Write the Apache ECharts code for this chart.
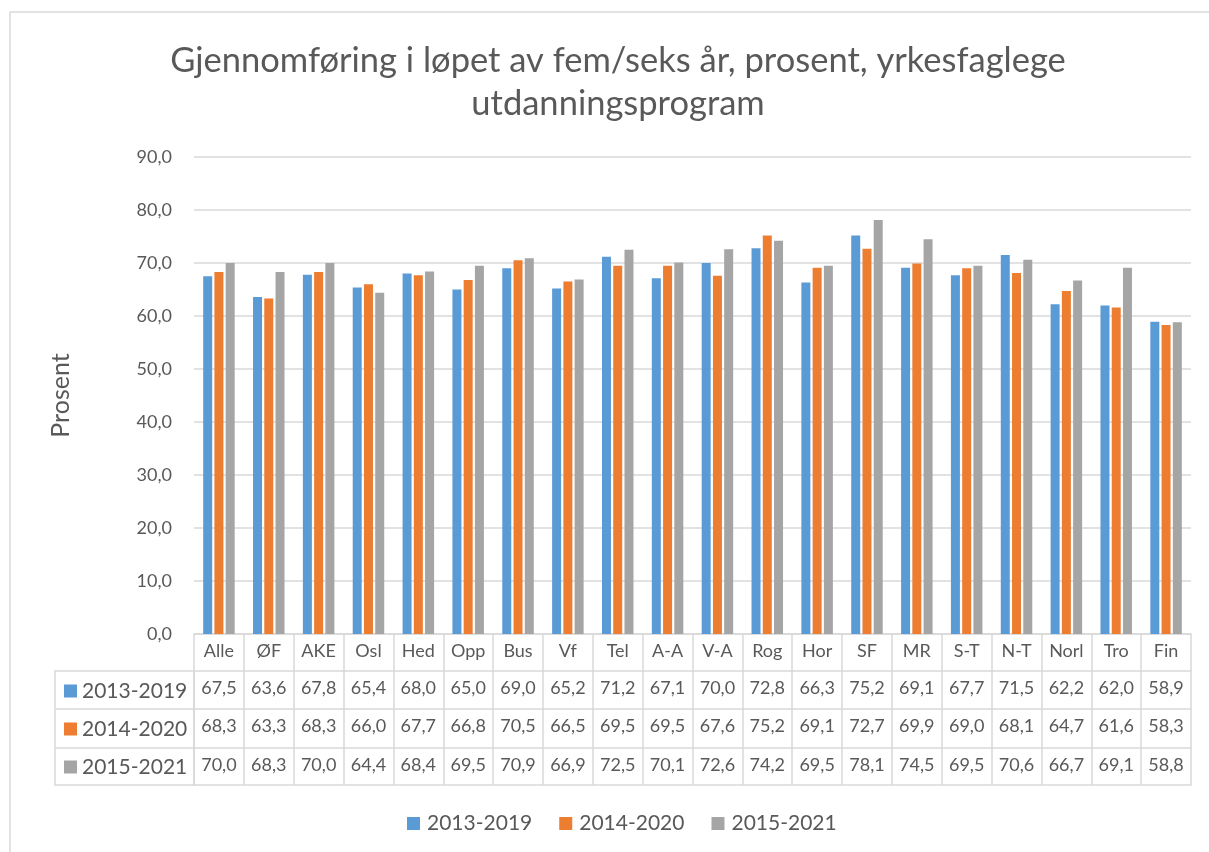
<!DOCTYPE html>
<html>
<head>
<meta charset="utf-8">
<script src="https://cdn.jsdelivr.net/npm/echarts@6/dist/echarts.min.js"></script>
<style>
    html, body { margin: 0; padding: 0; background: #ffffff; }
    #container { width: 1209px; height: 852px; }
</style>
</head>
<body>
<div id="container"></div>
<script type="text/javascript">
    // data
    var categories = ['Alle', 'ØF', 'AKE', 'Osl', 'Hed', 'Opp', 'Bus', 'Vf', 'Tel', 'A-A',
        'V-A', 'Rog', 'Hor', 'SF', 'MR', 'S-T', 'N-T', 'Norl', 'Tro', 'Fin'];
    var seriesNames = ['2013-2019', '2014-2020', '2015-2021'];
    var values2013 = [67.5, 63.6, 67.8, 65.4, 68.0, 65.0, 69.0, 65.2, 71.2, 67.1,
        70.0, 72.8, 66.3, 75.2, 69.1, 67.7, 71.5, 62.2, 62.0, 58.9];
    var values2014 = [68.3, 63.3, 68.3, 66.0, 67.7, 66.8, 70.5, 66.5, 69.5, 69.5,
        67.6, 75.2, 69.1, 72.7, 69.9, 69.0, 68.1, 64.7, 61.6, 58.3];
    var values2015 = [70.0, 68.3, 70.0, 64.4, 68.4, 69.5, 70.9, 66.9, 72.5, 70.1,
        72.6, 74.2, 69.5, 78.1, 74.5, 69.5, 70.6, 66.7, 69.1, 58.8];
    var rows = [values2013, values2014, values2015];
    var colors = ['#5B9BD5', '#ED7D31', '#A5A5A5'];

    var textColor = '#595959';
    var lineColor = '#D9D9D9';
    var font = 'Lato, "Open Sans", sans-serif';

    function fmt(v) {
        return v.toFixed(1).replace('.', ',');
    }

    var dom = document.getElementById('container');
    var myChart = echarts.init(dom);

    // category row + one x axis per table row (row lines come from the axis lines)
    var xAxes = [{
        type: 'category',
        data: categories,
        position: 'bottom',
        gridIndex: 0,
        axisLine: { show: true, lineStyle: { color: lineColor, width: 1.5 } },
        axisTick: { show: true, interval: 0, length: 151, lineStyle: { color: lineColor, width: 1.5 } },
        axisLabel: { interval: 0, margin: 8, fontSize: 18, color: textColor, fontFamily: font, verticalAlign: 'top' }
    }];
    var offsets = [37, 75, 114, 151];
    offsets.forEach(function (off, k) {
        xAxes.push({
            type: 'category',
            data: categories,
            position: 'bottom',
            offset: off,
            gridIndex: 0,
            axisLine: { show: true, lineStyle: { color: lineColor, width: 1.5 } },
            axisTick: { show: false },
            axisLabel: {
                show: k < rows.length,
                interval: 0,
                margin: 8,
                fontSize: 18,
                color: textColor,
                fontFamily: font,
                verticalAlign: 'top',
                formatter: function (value, idx) {
                    return k < rows.length ? fmt(rows[k][idx]) : '';
                }
            }
        });
    });

    var seriesData = [];
    for (var i = 0; i < rows.length; i++) {
        seriesData.push({
            name: seriesNames[i],
            type: 'bar',
            xAxisIndex: 0,
            data: rows[i],
            barWidth: 9,
            barGap: '25%',
            itemStyle: { color: colors[i] }
        });
    }

    var option = {
        animation: false,
        color: colors,
        textStyle: { fontFamily: font },
        title: {
            text: 'Gjennomføring i løpet av fem/seks år, prosent, yrkesfaglege\nutdanningsprogram',
            left: 613,
            textAlign: 'center',
            top: 34,
            textStyle: { fontSize: 34.5, fontWeight: 'normal', color: textColor, lineHeight: 43, fontFamily: font }
        },
        legend: [{
            data: seriesNames,
            bottom: 13,
            left: 402,
            itemWidth: 13,
            itemHeight: 13,
            itemGap: 27,
            icon: 'rect',
            selectedMode: false,
            textStyle: { fontSize: 21, color: textColor, fontFamily: font, padding: [0, 0, 0, 2] }
        }, {
            // row headers of the data table
            data: seriesNames,
            orient: 'vertical',
            left: 59,
            top: 675,
            itemWidth: 13,
            itemHeight: 13,
            itemGap: 16,
            icon: 'rect',
            selectedMode: false,
            textStyle: { fontSize: 21, color: textColor, fontFamily: font, lineHeight: 22 }
        }],
        grid: { left: 194, right: 18, top: 157, bottom: 218, containLabel: false },
        xAxis: xAxes,
        yAxis: {
            type: 'value',
            min: 0,
            max: 90,
            interval: 10,
            name: 'Prosent',
            nameLocation: 'middle',
            nameRotate: 90,
            nameGap: 121,
            nameTextStyle: { fontSize: 25, color: textColor, fontFamily: font },
            axisLine: { show: false },
            axisTick: { show: false },
            axisLabel: { fontSize: 18, color: textColor, margin: 22, fontFamily: font, formatter: fmt },
            splitLine: { lineStyle: { color: lineColor, width: 1.5 } }
        },
        graphic: [
            // chart area border
            { type: 'rect', shape: { x: 10, y: 12, width: 1230, height: 870 }, style: { fill: null, stroke: lineColor, lineWidth: 1.5 }, silent: true },
            // left header cell of the data table
            { type: 'rect', shape: { x: 55, y: 671, width: 139, height: 114 }, style: { fill: null, stroke: lineColor, lineWidth: 1.5 }, silent: true },
            { type: 'line', shape: { x1: 55, y1: 709, x2: 194, y2: 709 }, style: { stroke: lineColor, lineWidth: 1.5 }, silent: true },
            { type: 'line', shape: { x1: 55, y1: 748, x2: 194, y2: 748 }, style: { stroke: lineColor, lineWidth: 1.5 }, silent: true }
        ],
        series: seriesData
    };

    if (option && typeof option === 'object') {
        myChart.setOption(option, true);
    }
</script>
</body>
</html>
